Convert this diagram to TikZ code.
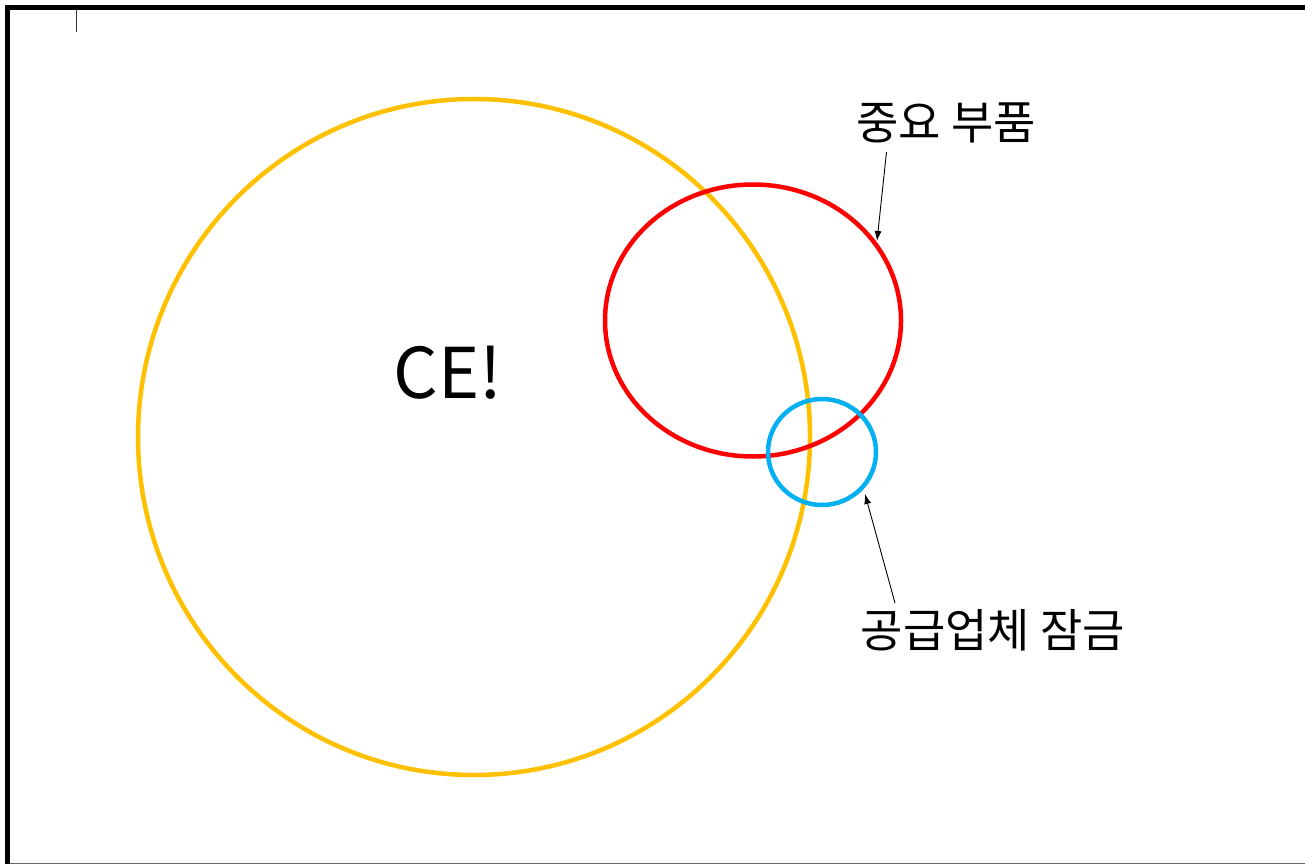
\documentclass[tikz,border=0pt]{standalone}
\usepackage{fontspec}
\usetikzlibrary{arrows.meta}
\newfontfamily\kr{Noto Sans CJK KR}
\definecolor{gold}{HTML}{FFC000}
\definecolor{ringred}{HTML}{FF0000}
\definecolor{ringblue}{HTML}{00B0F0}
\begin{document}
\begin{tikzpicture}[x=1pt,y=-1pt,
  ring/.style={line width=4.5pt},
  lbl/.style={font=\kr\fontsize{46}{48}\selectfont, inner sep=0pt},
  pointer/.style={-{Latex[length=10pt,width=7pt]}, line width=0.9pt, black}]
\useasboundingbox (0,0) rectangle (1305,864);
\fill[white] (0,0) rectangle (1305,864);
% frame
\fill[black] (5,5) rectangle (1305,10);
\fill[black] (5,5) rectangle (10,864);
\draw[gray!80!black, line width=1pt] (10,863.5) -- (1305,863.5);
\draw[black!80, line width=1pt] (76,9) -- (76,32);
% rings
\draw[ring, gold] (474,437) ellipse [x radius=336, y radius=338];
\draw[ring, ringred] (753,320.5) ellipse [x radius=148, y radius=136];
\draw[ring, ringblue] (822,452) ellipse [x radius=54, y radius=53];
\node[lbl, font=\kr\fontsize{70}{74}\selectfont] (ce) at (448,373) {CE!};
\node[lbl] (parts) at (946,123) {중요 부품};
\node[lbl] (lock) at (993,630) {공급업체 잠금};
\coordinate (redpt) at (877,241);
\coordinate (bluept) at (865,494);
\draw[pointer] (886.5,152) -- (redpt);
\draw[pointer] (895,603) -- (bluept);
\end{tikzpicture}
\end{document}
